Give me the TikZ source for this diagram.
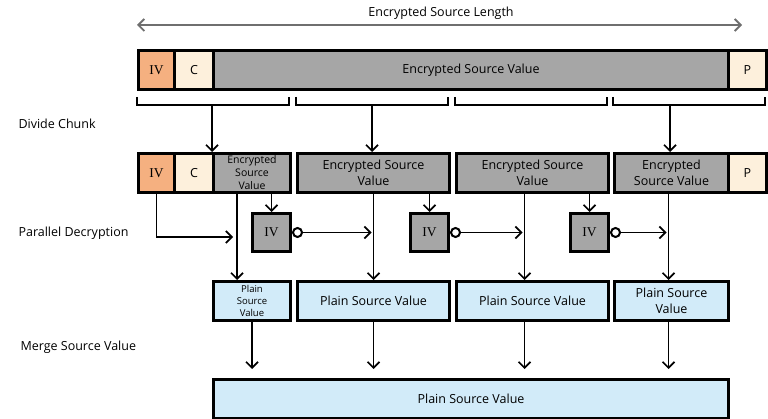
\documentclass[tikz,border=0pt]{standalone}
\usepackage{fontspec}
\setmainfont{Open Sans}
\newfontfamily\ivfont{Liberation Serif}
\usetikzlibrary{arrows.meta}
\usetikzlibrary{positioning}
\usetikzlibrary{calc}
\definecolor{iv orange}{HTML}{F5B080}
\definecolor{tag cream}{HTML}{FDF0DC}
\definecolor{cipher gray}{HTML}{A6A6A6}
\definecolor{plain blue}{HTML}{D2EBF9}
\definecolor{span gray}{HTML}{6F6F6F}

\begin{document}
\begin{tikzpicture}[x=1pt, y=-1pt]
            \tikzset{cell/.style={draw, line width=3pt, inner sep=0pt, anchor=north west, align=center, minimum height=39pt, font={\fontsize{12.5}{16}\selectfont}}}
            \tikzset{cipher/.style={cell, fill=cipher gray}}
            \tikzset{plain/.style={cell, fill=plain blue}}
            \tikzset{ivcell/.style={cell, font={\ivfont\fontsize{13.5}{15}\selectfont}}}
            \tikzset{bubble/.style={draw, circle, fill=white, line width=2pt, minimum size=9pt, inner sep=0pt}}
            \tikzset{arr/.style={-{Straight Barb[length=6pt, width=12pt]}, line width=1.7pt}}
            \tikzset{stage/.style={anchor=west, font={\fontsize{12.5}{15}\selectfont}}}
            \useasboundingbox (0, 0) rectangle (768, 419);

            \node[font={\fontsize{12.5}{15}\selectfont}] (spanlbl) at (441, 13) {Encrypted Source Length};
            \coordinate (spanL) at (137, 25);
            \coordinate (spanR) at (742, 25);
            \draw[{Straight Barb[length=6pt, width=12pt]}-{Straight Barb[length=6pt, width=12pt]}, line width=1.8pt, span gray] (spanL) -- (spanR);

            \node[ivcell, fill=iv orange, minimum width=36pt] (ivTop) at (137, 49) {IV};
            \node[cell, fill=tag cream, minimum width=39pt] (cTop) at (173, 49) {C};
            \node[cipher, minimum width=515pt] (encTop) at (212, 49) {Encrypted Source Value};
            \node[cell, fill=tag cream, minimum width=38pt] (pTop) at (727, 49) {P};

            \foreach \a/\b in {137/289, 296/448, 455/607, 613/765}
                \draw[line width=1.7pt] (\a, 97) |- (\b, 105) -- (\b, 97);
            \coordinate (cut1) at (212, 105);
            \coordinate (cut2) at (372, 105);
            \coordinate (cut4) at (670, 105);

            \node[stage] (lblDivide) at (15, 124) {Divide Chunk};
            \node[stage] (lblParallel) at (15, 233) {Parallel Decryption};
            \node[stage] (lblMerge) at (17, 347) {Merge Source Value};

            \node[ivcell, fill=iv orange, minimum width=36pt] (iv1) at (137, 152) {IV};
            \node[cell, fill=tag cream, minimum width=39pt] (c1) at (173, 152) {C};
            \node[cipher, minimum width=77pt, font={\fontsize{10.5}{13}\selectfont}] (encA) at (212, 152) {Encrypted\\Source\\Value};
            \node[cipher, minimum width=152pt] (encB) at (296, 152) {Encrypted Source\\Value};
            \node[cipher, minimum width=152pt] (encC) at (455, 152) {Encrypted Source\\Value};
            \node[cipher, minimum width=114pt] (encD) at (613, 152) {Encrypted\\Source Value};
            \node[cell, fill=tag cream, minimum width=38pt] (p1) at (727, 152) {P};

            \draw[arr] (cut1) -- (cut1 |- encA.north);
            \draw[arr] (cut2) -- (cut2 |- encB.north);
            \draw[arr] (cut4) -- (cut4 |- encD.north);

            \node[ivcell, fill=cipher gray, minimum width=38pt, minimum height=38pt] (ivA) at (251, 212) {IV};
            \node[ivcell, fill=cipher gray, minimum width=38pt, minimum height=38pt] (ivB) at (409, 212) {IV};
            \node[ivcell, fill=cipher gray, minimum width=38pt, minimum height=38pt] (ivC) at (569, 212) {IV};
            \node[bubble, right=0pt of ivA] (bA) {};
            \node[bubble, right=0pt of ivB] (bB) {};
            \node[bubble, right=0pt of ivC] (bC) {};

            \node[plain, minimum width=77pt, font={\fontsize{9.5}{12}\selectfont}] (pA) at (212, 280) {Plain\\Source\\Value};
            \node[plain, minimum width=152pt] (pB) at (296, 280) {Plain Source Value};
            \node[plain, minimum width=152pt] (pC) at (455, 280) {Plain Source Value};
            \node[plain, minimum width=114pt] (pD) at (613, 280) {Plain Source\\Value};
            \node[plain, minimum width=515pt] (merged) at (212, 378) {Plain Source Value};

            \coordinate (colA) at ([xshift=-15pt]pA.north);
            \coordinate (colB) at (pB.north);
            \coordinate (colC) at ([xshift=-8pt]pC.north);
            \coordinate (colD) at ([xshift=-3pt]pD.north);
            \coordinate (ivIn) at (233, 237);

            \draw[arr] (ivA.north |- encA.south) -- (ivA.north);
            \draw[arr] (ivB.north |- encB.south) -- (ivB.north);
            \draw[arr] (ivC.north |- encC.south) -- (ivC.north);

            \draw[arr] (colA |- encA.south) -- (colA);
            \draw[arr] (colB |- encB.south) -- (colB);
            \draw[arr] (colC |- encC.south) -- (colC);
            \draw[arr] (colD |- encD.south) -- (colD);

            \draw[arr] (iv1.south) |- (ivIn);
            \draw[arr, shorten >=2pt] (bA.east) -- (bA.east -| colB);
            \draw[arr, shorten >=2pt] (bB.east) -- (bB.east -| colC);
            \draw[arr, shorten >=2pt] (bC.east) -- (bC.east -| colD);

            \draw[arr, shorten >=9pt] (pA.south) -- (pA.south |- merged.north);
            \draw[arr, shorten >=9pt] (pB.south) -- (pB.south |- merged.north);
            \draw[arr, shorten >=9pt] (colC |- pC.south) -- (colC |- merged.north);
            \draw[arr, shorten >=9pt] (colD |- pD.south) -- (colD |- merged.north);
        \end{tikzpicture}
\end{document}
